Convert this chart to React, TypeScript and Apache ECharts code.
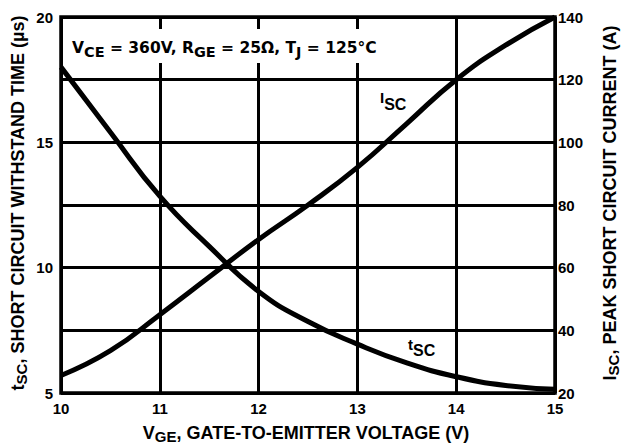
import React, { useEffect, useRef } from "react";
import * as echarts from "echarts";

const vge = [10, 10.5, 11, 11.5, 12, 12.5, 13, 13.5, 14, 14.5, 15];
const tscValues = [18.0, 15.4, 12.85, 10.85, 9.05, 7.85, 6.95, 6.2, 5.65, 5.3, 5.15];
const iscValues = [25.6, 33.5, 45, 57, 69, 80, 92, 106, 120, 131, 140];
const leftTickLabels = [5, 10, 15, 20];
const rightTickLabels = [20, 40, 60, 80, 100, 120, 140];
const xTickLabels = [10, 11, 12, 13, 14, 15];

const TICK_FONT = "Liberation Sans";
const TITLE_FONT = "Liberation Sans";
const NOTE_FONT = "DejaVu Sans";

export default function App() {
  const ref = useRef<HTMLDivElement>(null);
  useEffect(() => {
    const chart = echarts.init(ref.current!, null, { renderer: "svg" });
    const tick = { fontFamily: TICK_FONT, fontWeight: "bold" as const, fontSize: 15, color: "#000" };
    const titleRich = {
      m: { fontFamily: TITLE_FONT, fontWeight: "bold", fontSize: 18, lineHeight: 18, verticalAlign: "top", fill: "#000" },
      s: { fontFamily: TITLE_FONT, fontWeight: "bold", fontSize: 15, lineHeight: 24, verticalAlign: "middle", fill: "#000" },
    };
    const noteRich = {
      m: { fontFamily: NOTE_FONT, fontWeight: "bold", fontSize: 15.5, lineHeight: 15, verticalAlign: "top", fill: "#000" },
      s: { fontFamily: NOTE_FONT, fontWeight: "bold", fontSize: 14.5, lineHeight: 23, verticalAlign: "middle", fill: "#000" },
    };
    const curveRichI = {
      m: { fontFamily: TITLE_FONT, fontWeight: "bold", fontSize: 15, lineHeight: 15, verticalAlign: "top", fill: "#000" },
      s: { fontFamily: TITLE_FONT, fontWeight: "bold", fontSize: 16, lineHeight: 28, verticalAlign: "middle", fill: "#000" },
    };
    const curveRichT = {
      m: { fontFamily: TITLE_FONT, fontWeight: "bold", fontSize: 15, lineHeight: 15, verticalAlign: "top", fill: "#000" },
      s: { fontFamily: TITLE_FONT, fontWeight: "bold", fontSize: 16, lineHeight: 27, verticalAlign: "middle", fill: "#000" },
    };
    chart.setOption({
      animation: false,
      backgroundColor: "#fff",
      grid: { left: 61, right: 71, top: 17, bottom: 52, show: true, borderColor: "#000", borderWidth: 3.5 },
      xAxis: {
        type: "value",
        min: 10,
        max: 15,
        interval: 1,
        axisLine: { show: false },
        axisTick: { show: false },
        splitLine: { show: true, lineStyle: { color: "#000", width: 3 } },
        axisLabel: {
          ...tick,
          margin: 8,
          formatter: (v: number) => (xTickLabels.includes(v) ? String(v) : ""),
        },
      },
      yAxis: [
        {
          type: "value",
          min: 5,
          max: 20,
          interval: 2.5,
          axisLine: { show: false },
          axisTick: { show: false },
          splitLine: { show: true, lineStyle: { color: "#000", width: 3 } },
          axisLabel: {
            ...tick,
            margin: 8,
            formatter: (v: number) => (leftTickLabels.includes(v) ? String(v) : ""),
          },
        },
        {
          type: "value",
          min: 20,
          max: 140,
          interval: 20,
          position: "right",
          axisLine: { show: false },
          axisTick: { show: false },
          splitLine: { show: false },
          axisLabel: {
            ...tick,
            margin: 3,
            formatter: (v: number) => (rightTickLabels.includes(v) ? String(v) : ""),
          },
        },
      ],
      series: [
        {
          type: "line",
          name: "tsc",
          yAxisIndex: 0,
          smooth: true,
          symbol: "none",
          lineStyle: { color: "#000", width: 5 },
          data: vge.map((v, i) => [v, tscValues[i]]),
          z: 5,
        },
        {
          type: "line",
          name: "Isc",
          yAxisIndex: 1,
          smooth: true,
          symbol: "none",
          lineStyle: { color: "#000", width: 5 },
          data: vge.map((v, i) => [v, iscValues[i]]),
          z: 5,
        },
      ],
      graphic: [
        { type: "rect", z: 100, shape: { x: 67, y: 29, width: 323, height: 34 }, style: { fill: "#fff" } },
        {
          type: "text",
          z: 101,
          x: 72,
          y: 51.5,
          style: {
            text: "{m|V}{s|CE}{m| = 360V, R}{s|GE}{m| = 25Ω, T}{s|J}{m| = 125°C}",
            rich: noteRich,
            align: "left",
            verticalAlign: "middle",
          },
        },
        {
          type: "text",
          z: 101,
          x: 380,
          y: 104,
          style: { text: "{m|I}{s|SC}", rich: curveRichI, align: "left", verticalAlign: "middle" },
        },
        {
          type: "text",
          z: 101,
          x: 408,
          y: 350,
          style: { text: "{m|t}{s|SC}", rich: curveRichT, align: "left", verticalAlign: "middle" },
        },
        {
          type: "text",
          z: 101,
          x: 306,
          y: 436,
          style: {
            text: "{m|V}{s|GE}{m|, GATE-TO-EMITTER VOLTAGE (V)}",
            rich: titleRich,
            align: "center",
            verticalAlign: "middle",
          },
        },
        {
          type: "text",
          z: 101,
          x: 21,
          y: 203,
          rotation: Math.PI / 2,
          style: {
            text: "{m|t}{s|SC}{m|, SHORT CIRCUIT WITHSTAND TIME (µs)}",
            rich: titleRich,
            align: "center",
            verticalAlign: "middle",
          },
        },
        {
          type: "text",
          z: 101,
          x: 613,
          y: 203,
          rotation: Math.PI / 2,
          style: {
            text: "{m|I}{s|SC}{m|, PEAK SHORT CIRCUIT CURRENT (A)}",
            rich: titleRich,
            align: "center",
            verticalAlign: "middle",
          },
        },
      ],
    });
    return () => chart.dispose();
  }, []);
  return <div ref={ref} style={{ position: "absolute", left: 0, top: 0, width: 626, height: 445 }} />;
}
